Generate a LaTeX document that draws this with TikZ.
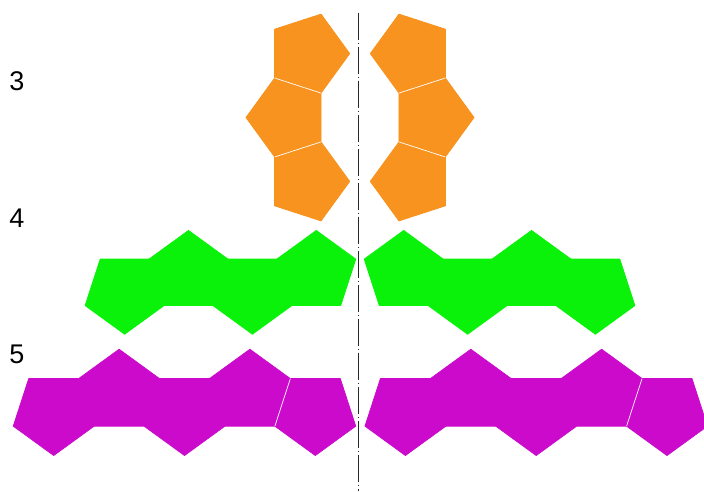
\documentclass[tikz,border=0pt]{standalone}
\usepackage{fontspec}
\setmainfont{Liberation Sans}
\definecolor{orangeP}{RGB}{247,147,30}
\definecolor{greenP}{RGB}{10,242,10}
\definecolor{magentaP}{RGB}{204,10,204}
\definecolor{axisgray}{RGB}{40,40,40}
% pentagon: cx, cy, first-vertex angle, circumradius
\newcommand\pentagon[4]{%
  \filldraw[pent] ({#1+#4*cos(#3)},{#2+#4*sin(#3)})
    -- ({#1+#4*cos(#3+72)},{#2+#4*sin(#3+72)})
    -- ({#1+#4*cos(#3+144)},{#2+#4*sin(#3+144)})
    -- ({#1+#4*cos(#3+216)},{#2+#4*sin(#3+216)})
    -- ({#1+#4*cos(#3+288)},{#2+#4*sin(#3+288)}) -- cycle;}
% seam between two vertices: cx, cy, R, angle1, angle2
\newcommand\seamline[5]{%
  \draw[seam] ({#1+#3*cos(#4)},{#2+#3*sin(#4)}) -- ({#1+#3*cos(#5)},{#2+#3*sin(#5)});}
\tikzset{
  pent/.style={line width=0.8pt,line join=round},
  seam/.style={white,line width=0.7pt},
  axisline/.style={axisgray,line width=1.3pt,dash pattern=on 27.5pt off 2.7pt on 1.2pt off 2.6pt},
  lbl/.style={inner sep=0pt,font=\fontsize{27}{30}\selectfont}
}
\begin{document}
\begin{tikzpicture}[x=1pt,y=-1pt]
\useasboundingbox (0,0) rectangle (704,491);
% orange (3)
\begin{scope}[color=orangeP]
  \pentagon{308.2}{53.6}{0}{41.5}
  \pentagon{287.5}{117.5}{180}{41.5}
  \pentagon{308.2}{181.4}{0}{41.5}
  \pentagon{411.8}{53.6}{180}{41.5}
  \pentagon{432.5}{117.5}{0}{41.5}
  \pentagon{411.8}{181.4}{180}{41.5}
\end{scope}
\seamline{308.2}{53.6}{41.5}{72}{144}
\seamline{287.5}{117.5}{41.5}{36}{108}
\seamline{411.8}{53.6}{41.5}{36}{108}
\seamline{432.5}{117.5}{41.5}{72}{144}
% green (4)
\begin{scope}[color=greenP]
  \pentagon{124.6}{292.7}{90}{41.5}
  \pentagon{188.5}{271.95}{270}{41.5}
  \pentagon{252.4}{292.7}{90}{41.5}
  \pentagon{316.3}{271.95}{270}{41.5}
  \pentagon{595.4}{292.7}{90}{41.5}
  \pentagon{531.5}{271.95}{270}{41.5}
  \pentagon{467.6}{292.7}{90}{41.5}
  \pentagon{403.7}{271.95}{270}{41.5}
\end{scope}
% magenta (5)
\begin{scope}[color=magentaP]
  \pentagon{53.7}{413}{90}{42.5}
  \pentagon{119.1}{391.75}{270}{42.5}
  \pentagon{184.5}{413}{90}{42.5}
  \pentagon{249.9}{391.75}{270}{42.5}
  \pentagon{315.3}{413}{90}{42.5}
  \pentagon{405.4}{413}{90}{42.5}
  \pentagon{470.8}{391.75}{270}{42.5}
  \pentagon{536.2}{413}{90}{42.5}
  \pentagon{601.6}{391.75}{270}{42.5}
  \pentagon{667.0}{413}{90}{42.5}
\end{scope}
\seamline{249.9}{391.75}{42.5}{342}{54}
\seamline{601.6}{391.75}{42.5}{342}{54}
% symmetry axis
\coordinate (axtop) at (358.5,12.5);
\coordinate (axbot) at (358.5,491);
\draw[axisline] (axtop) -- (axbot);
% row labels
\node[lbl] (l3) at (17,81.5) {3};
\node[lbl] (l4) at (17,218) {4};
\node[lbl] (l5) at (17,354) {5};
\end{tikzpicture}
\end{document}
